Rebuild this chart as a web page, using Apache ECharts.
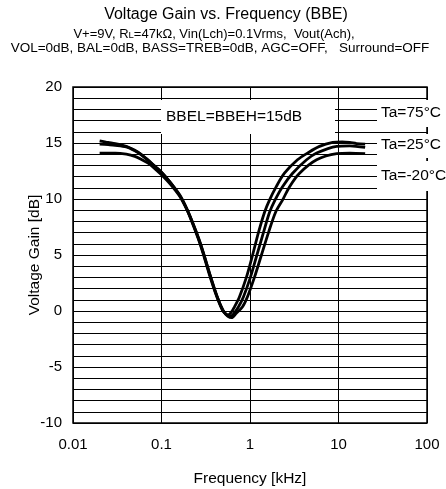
<!DOCTYPE html>
<html>
<head>
<meta charset="utf-8">
<script src="https://cdn.jsdelivr.net/npm/echarts@6/dist/echarts.min.js"></script>
<style>
html,body{margin:0;padding:0;background:#fff;}
#chart{width:446px;height:489px;}
</style>
</head>
<body>
<div id="chart"></div>
<script>
// ---- data (frequency in kHz, gain in dB) ----
const freqT75 = [0.02,0.025,0.03,0.04,0.05,0.06,0.0724,0.085,0.1,0.122,0.158,0.19,0.222,0.267,0.304,0.346,0.416,0.486,0.53,0.565,0.61,0.666,0.759,0.91,1.07,1.245,1.457,1.66,1.98,2.45,3.44,4.47,6.1,8.6,11,13.4,16,20];
const gainT75 = [15.2,15.05,14.95,14.7,14.35,13.95,13.4,12.9,12.4,11.6,10.4,9.2,7.9,6.2,4.8,3.3,1.4,0.1,-0.25,-0.35,-0.15,0.35,1.25,3.0,5.0,7.0,8.8,9.9,11.1,12.3,13.5,14.1,14.7,15.05,15.1,15.05,14.95,14.9];

const freqT25 = [0.02,0.025,0.03,0.04,0.05,0.06,0.073,0.086,0.101,0.124,0.161,0.193,0.226,0.272,0.309,0.352,0.423,0.494,0.545,0.59,0.645,0.739,0.842,1.01,1.197,1.418,1.66,1.916,2.33,3.03,4.36,5.66,9.55,13.4,20];
const gainT25 = [14.9,14.85,14.8,14.65,14.3,13.9,13.35,12.85,12.35,11.55,10.35,9.15,7.85,6.15,4.75,3.25,1.35,0.05,-0.35,-0.5,-0.3,0.35,1.25,3.0,5.0,7.0,8.8,9.9,11.1,12.3,13.5,14.1,14.7,14.75,14.6];

const freqTm20 = [0.02,0.025,0.03,0.04,0.05,0.06,0.074,0.087,0.102,0.125,0.162,0.195,0.228,0.274,0.312,0.356,0.426,0.5,0.56,0.62,0.7,0.82,0.934,1.122,1.347,1.617,1.941,2.33,2.8,3.63,5.66,9.55,13.4,20];
const gainTm20 = [14.1,14.1,14.1,14.0,13.8,13.5,13.1,12.6,12.1,11.35,10.2,9.0,7.75,6.05,4.65,3.15,1.25,0.0,-0.45,-0.6,-0.2,0.35,1.25,3.0,5.0,7.0,8.8,9.9,11.1,12.3,13.5,14.05,14.1,14.05];

const xTicks = [0.01, 0.1, 1, 10, 100];
const yLabels = [-10, -5, 0, 5, 10, 15, 20];
const seriesNames = ['Ta=75°C', 'Ta=25°C', 'Ta=-20°C'];
const annotation = 'BBEL=BBEH=15dB';

const FONT = '"Liberation Sans", Arial, sans-serif';
function pairs(f, g) { return f.map((v, i) => [v, g[i]]); }

const chart = echarts.init(document.getElementById('chart'), null, {renderer: 'canvas'});

const mkSeries = (name, f, g) => ({
  name: name, type: 'line', data: pairs(f, g), smooth: 0.3, symbol: 'none',
  lineStyle: {color: '#000', width: 2.8}, z: 5
});

chart.setOption({
  animation: false,
  backgroundColor: '#fff',
  textStyle: {fontFamily: FONT, color: '#000'},
  grid: {left: 73, right: 19, top: 87, bottom: 66, containLabel: false, outerBoundsMode: 'none',
    show: true, borderColor: '#000', borderWidth: 1.5, backgroundColor: 'transparent'},
  xAxis: {
    type: 'log', logBase: 10, min: 0.01, max: 100,
    name: 'Frequency [kHz]', nameLocation: 'middle', nameGap: 48, nameMoveOverlap: false,
    nameTextStyle: {fontFamily: FONT, fontSize: 15.5, color: '#000'},
    axisLine: {show: false}, axisTick: {show: false},
    axisLabel: {fontFamily: FONT, fontSize: 15, color: '#000', margin: 14,
      formatter: v => { const t = xTicks.find(x => Math.abs(Math.log10(x) - Math.log10(v)) < 1e-6); return t === undefined ? '' : String(t); }},
    splitLine: {show: true, lineStyle: {color: '#000', width: 1}},
    minorSplitLine: {show: false}
  },
  yAxis: {
    type: 'value', min: -10, max: 20, interval: 1,
    name: 'Voltage Gain [dB]', nameLocation: 'middle', nameGap: 30, nameMoveOverlap: false,
    nameTextStyle: {fontFamily: FONT, fontSize: 15.5, color: '#000'},
    axisLine: {show: false}, axisTick: {show: false},
    axisLabel: {fontFamily: FONT, fontSize: 15, color: '#000', margin: 11,
      formatter: v => yLabels.indexOf(v) >= 0 ? String(v) : ''},
    splitLine: {show: true, lineStyle: {color: '#000', width: 1}}
  },
  series: [
    mkSeries(seriesNames[0], freqT75, gainT75),
    mkSeries(seriesNames[1], freqT25, gainT25),
    mkSeries(seriesNames[2], freqTm20, gainTm20)
  ],
  graphic: [
    {type: 'text', x: 226, y: 15, style: {text: 'Voltage Gain vs. Frequency (BBE)', font: '16px ' + FONT, fill: '#000', align: 'center', verticalAlign: 'middle'}},
    {type: 'text', x: 214, y: 34, style: {
      text: 'V+=9V, R{sub|L}=47kΩ, Vin(Lch)=0.1Vrms,  Vout(Ach),',
      font: '13px ' + FONT, fill: '#000', align: 'center', verticalAlign: 'middle',
      rich: {sub: {fontSize: 9.5, fontFamily: FONT, fill: '#000', verticalAlign: 'bottom', lineHeight: 9, padding: [6, 0, 0, 0]}}
    }},
    {type: 'text', x: 220, y: 48, style: {text: 'VOL=0dB, BAL=0dB, BASS=TREB=0dB, AGC=OFF,   Surround=OFF', font: '13.5px ' + FONT, fill: '#000', align: 'center', verticalAlign: 'middle'}},
    // annotation boxes
    {type: 'rect', shape: {x: 161, y: 100, width: 174, height: 34}, style: {fill: '#fff'}, z: 10},
    {type: 'text', x: 166, y: 117, style: {text: annotation, font: '15.5px ' + FONT, fill: '#000', verticalAlign: 'middle'}, z: 11},
    {type: 'rect', shape: {x: 377, y: 100, width: 69, height: 27}, style: {fill: '#fff'}, z: 10},
    {type: 'text', x: 381, y: 113, style: {text: seriesNames[0], font: '15.5px ' + FONT, fill: '#000', verticalAlign: 'middle'}, z: 11},
    {type: 'rect', shape: {x: 377, y: 134, width: 69, height: 24}, style: {fill: '#fff'}, z: 10},
    {type: 'text', x: 381, y: 145, style: {text: seriesNames[1], font: '15.5px ' + FONT, fill: '#000', verticalAlign: 'middle'}, z: 11},
    {type: 'rect', shape: {x: 377, y: 161, width: 69, height: 30}, style: {fill: '#fff'}, z: 10},
    {type: 'text', x: 381, y: 176, style: {text: seriesNames[2], font: '15.5px ' + FONT, fill: '#000', verticalAlign: 'middle'}, z: 11}
  ]
});
</script>
</body>
</html>
